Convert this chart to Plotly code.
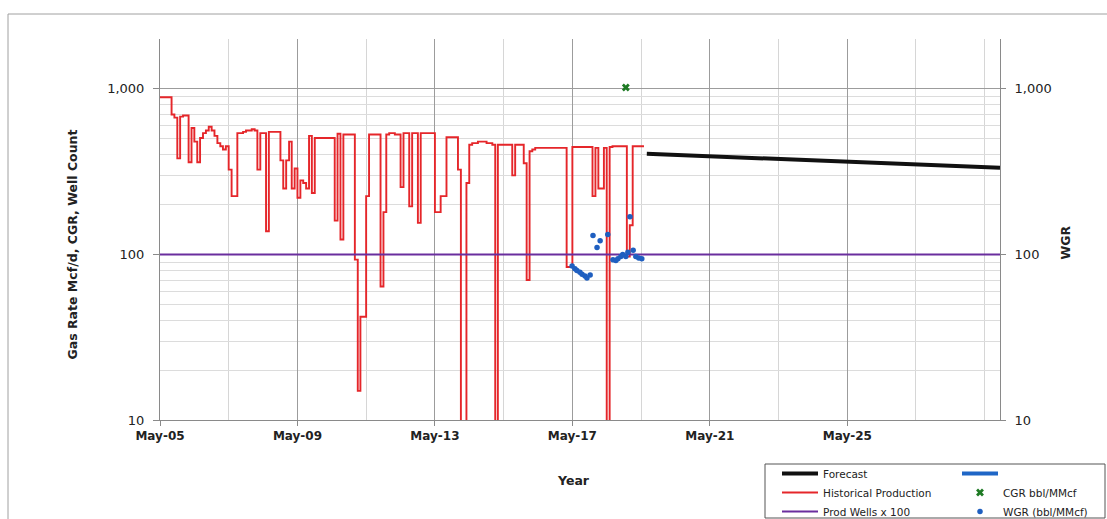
import plotly.graph_objects as go
import pandas as pd
import math

# ---------------- data ----------------
hist_start = "2005-05-01"
hist_rate = [
    890, 890, 890, 890, 700, 670, 380, 680, 690, 690,
    360, 580, 480, 360, 505, 540, 560, 590, 560, 520,
    470, 450, 430, 450, 325, 225, 225, 540, 540, 550,
    560, 560, 570, 560, 325, 540, 540, 138, 550, 550,
    550, 550, 370, 250, 370, 480, 250, 330, 220, 280,
    270, 250, 520, 235, 505, 505, 505, 505, 505, 505,
    505, 160, 535, 123, 530, 530, 530, 530, 93, 15,
    42, 42, 225, 530, 530, 530, 530, 64, 180, 530,
    540, 540, 530, 530, 255, 540, 540, 195, 540, 540,
    155, 540, 540, 540, 540, 540, 180, 180, 225, 225,
    510, 510, 510, 510, 325, 5, 5, 270, 460, 470,
    470, 480, 480, 480, 470, 470, 460, 5, 460, 460,
    460, 460, 460, 300, 460, 460, 460, 355, 70, 420,
    430, 440, 440, 440, 440, 440, 440, 440, 440, 440,
    440, 440, 84, 84, 445, 445, 445, 445, 445, 445,
    445, 225, 440, 250, 250, 440, 5, 445, 450, 450,
    450, 450, 450, 97, 150, 450, 450, 450, 450, 450,
]

forecast_dates = ["2019-07-01", "2021-07-01", "2023-07-01", "2025-07-01", "2027-07-01", "2029-10-10"]
forecast_rate = [405, 390, 376, 362, 348, 334]

wells_dates = ["2005-05-01", "2029-10-10"]
wells_x100 = [100, 100]

cgr_dates = ["2018-11-20"]
cgr_values = [1020]

wgr_dates = [
    "2017-04-28", "2017-05-28", "2017-06-18", "2017-07-20", "2017-08-12", "2017-09-12",
    "2017-10-03", "2017-11-06", "2017-12-06", "2018-01-18", "2018-02-20", "2018-05-12",
    "2018-07-06", "2018-08-06", "2018-08-28", "2018-09-28", "2018-10-18", "2018-11-20",
    "2018-12-12", "2019-01-03", "2019-02-06", "2019-03-06", "2019-04-06", "2019-05-09",
]
wgr_values = [85, 82, 80, 78, 76, 74, 72, 75, 130, 110, 121, 132,
              93, 92, 94, 97, 100, 97, 103, 169, 106, 97, 95, 94]

# unnamed blue series in the legend: no visible data in the chart
wgr_fc_dates = [None]
wgr_fc_values = [None]

tick_dates = ["2005-05-01", "2009-05-01", "2013-05-01", "2017-05-01", "2021-05-01", "2025-05-01"]
tick_labels = ["May-05", "May-09", "May-13", "May-17", "May-21", "May-25"]
y_ticks = [10, 100, 1000]
y_tick_labels = ["10", "100", "1,000"]

x_range = ["2005-05-01", "2029-10-10"]
y_range = [1, math.log10(2000)]

hist_dates = pd.date_range(hist_start, periods=len(hist_rate), freq="MS")

# ---------------- figure ----------------
fig = go.Figure()

fig.add_trace(go.Scatter(
    x=hist_dates, y=hist_rate, mode="lines", name="Historical Production",
    line=dict(color="#E5262A", width=1.9, shape="hv"), legend="legend", legendrank=2))
fig.add_trace(go.Scatter(
    x=forecast_dates, y=forecast_rate, mode="lines", name="Forecast",
    line=dict(color="#111111", width=4), legend="legend", legendrank=1))
fig.add_trace(go.Scatter(
    x=wells_dates, y=wells_x100, mode="lines", name="Prod Wells x 100",
    line=dict(color="#6A2E9E", width=2), legend="legend", legendrank=3))
fig.add_trace(go.Scatter(
    x=wgr_fc_dates, y=wgr_fc_values, mode="lines", name=" ",
    line=dict(color="#1F66C6", width=4), legend="legend2", legendrank=1, yaxis="y2"))
fig.add_trace(go.Scatter(
    x=cgr_dates, y=cgr_values, mode="markers", name="CGR bbl/MMcf",
    marker=dict(symbol="x", color="#1E7A24", size=7), legend="legend2", legendrank=2))
fig.add_trace(go.Scatter(
    x=wgr_dates, y=wgr_values, mode="markers", name="WGR (bbl/MMcf)",
    marker=dict(symbol="circle", color="#1F5FC0", size=5.5), legend="legend2", legendrank=3,
    yaxis="y2"))

axis_font = dict(family="DejaVu Sans", size=13, color="#222222")

fig.update_layout(
    width=1107, height=519,
    margin=dict(l=160, r=107, t=39, b=99, autoexpand=False),
    paper_bgcolor="white", plot_bgcolor="white",
    font=dict(family="DejaVu Sans", size=12, color="#222222"),
    xaxis=dict(
        type="date", range=x_range, tickmode="array", tickvals=tick_dates, ticktext=tick_labels,
        tickfont=dict(family="DejaVu Sans", size=12, color="#222222", weight="bold"),
        showline=True, linecolor="#8a8a8a", linewidth=1, mirror=False,
        ticks="outside", ticklen=5, tickcolor="#8a8a8a",
        showgrid=True, gridcolor="#9c9c9c", gridwidth=1,
        minor=dict(dtick="M24", tick0="2005-05-01", showgrid=True, gridcolor="#d6d6d6", ticks=""),
        zeroline=False,
    ),
    yaxis=dict(
        type="log", range=y_range, tickmode="array", tickvals=y_ticks, ticktext=y_tick_labels,
        tickfont=axis_font, showline=True, linecolor="#8a8a8a", linewidth=1,
        ticks="outside", ticklen=6, tickcolor="#8a8a8a", ticklabelstandoff=6,
        showgrid=True, gridcolor="#9c9c9c", gridwidth=1,
        minor=dict(dtick="D1", showgrid=True, gridcolor="#dcdcdc", ticks=""),
        zeroline=False,
    ),
    yaxis2=dict(
        type="log", range=y_range, overlaying="y", side="right", tickmode="array",
        tickvals=y_ticks, ticktext=y_tick_labels, tickfont=axis_font,
        showline=True, linecolor="#8a8a8a", linewidth=1,
        ticks="outside", ticklen=5, tickcolor="#8a8a8a", ticklabelstandoff=6,
        showgrid=False, zeroline=False,
    ),
    legend=dict(
        xref="container", yref="container", x=777 / 1107, y=1 - 459 / 519,
        xanchor="left", yanchor="top", orientation="v", itemwidth=36,
        bgcolor="rgba(0,0,0,0)", borderwidth=0,
        font=dict(family="DejaVu Sans", size=10.5, color="#222222"),
    ),
    legend2=dict(
        xref="container", yref="container", x=957 / 1107, y=1 - 459 / 519,
        xanchor="left", yanchor="top", orientation="v", itemwidth=36,
        bgcolor="rgba(0,0,0,0)", borderwidth=0,
        font=dict(family="DejaVu Sans", size=10.5, color="#222222"),
    ),
    showlegend=True,
)

# axis titles
fig.add_annotation(
    text="Gas Rate Mcf/d, CGR, Well Count", textangle=-90, showarrow=False,
    xref="paper", yref="paper", x=(62 - 160) / 840, y=(420 - 245) / 381,
    font=dict(family="DejaVu Sans", size=12.5, color="#222222", weight="bold"))
fig.add_annotation(
    text="WGR", textangle=-90, showarrow=False,
    xref="paper", yref="paper", x=(1075 - 160) / 840, y=(420 - 243) / 381,
    font=dict(family="DejaVu Sans", size=12.5, color="#222222", weight="bold"))
fig.add_annotation(
    text="Year", showarrow=False,
    xref="paper", yref="paper", x=(573 - 160) / 840, y=(420 - 490) / 381,
    font=dict(family="DejaVu Sans", size=12.5, color="#222222", weight="bold"))

# legend frame and chart border
fig.add_shape(type="rect", xref="paper", yref="paper",
              x0=(765 - 160) / 840, x1=(1105 - 160) / 840,
              y0=(420 - 518) / 381, y1=(420 - 464) / 381,
              line=dict(color="#555555", width=1), fillcolor="rgba(0,0,0,0)")
fig.add_shape(type="line", xref="paper", yref="paper",
              x0=(8 - 160) / 840, x1=(1107 - 160) / 840,
              y0=(420 - 14) / 381, y1=(420 - 14) / 381,
              line=dict(color="#a0a0a0", width=1))
fig.add_shape(type="line", xref="paper", yref="paper",
              x0=(8 - 160) / 840, x1=(8 - 160) / 840,
              y0=(420 - 14) / 381, y1=(420 - 519) / 381,
              line=dict(color="#a0a0a0", width=1))

fig.write_html(
    "out.html",
    config={"displayModeBar": False},
    post_script="document.body.style.margin='0px';document.body.style.overflow='hidden';",
)
